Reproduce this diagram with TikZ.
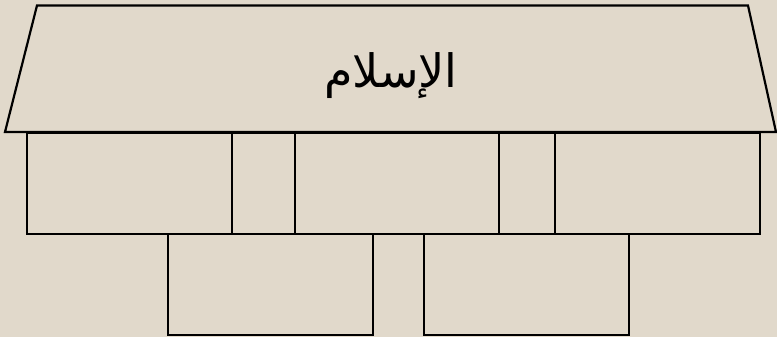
\documentclass[tikz,border=0pt]{standalone}
\usepackage{fontspec}
\newfontfamily\arabicfont[Script=Arabic]{DejaVu Sans}
\TeXXeTstate=1
\definecolor{bgbeige}{RGB}{225,217,203}
\begin{document}
\begin{tikzpicture}[x=1pt,y=-1pt,
  part/.style={draw=black,line width=2.2pt},
  cell/.style={draw=black,line width=2.2pt,rectangle,inner sep=0pt,anchor=north west}]
\fill[bgbeige] (0,0) rectangle (777,337);
\useasboundingbox (0,0) rectangle (777,337);
% roof
\draw[part,line join=miter] (37,5.5) -- (748,5.5) -- (776,132) -- (5,132) -- cycle;
\node[text=black] (title) at (391,76) {\fontsize{46}{52}\selectfont\arabicfont\beginR الإسلام\endR};
% first row
\node[cell,minimum width=205pt,minimum height=101pt] (r1a) at (26,132) {};
\node[cell,minimum width=63pt,minimum height=101pt] (r1b) at (231,132) {};
\node[cell,minimum width=204pt,minimum height=101pt] (r1c) at (294,132) {};
\node[cell,minimum width=56pt,minimum height=101pt] (r1d) at (498,132) {};
\node[cell,minimum width=205pt,minimum height=101pt] (r1e) at (554,132) {};
% second row
\node[cell,minimum width=205pt,minimum height=101pt] (r2a) at (167,233) {};
\node[cell,minimum width=205pt,minimum height=101pt] (r2b) at (423,233) {};
\end{tikzpicture}
\end{document}
